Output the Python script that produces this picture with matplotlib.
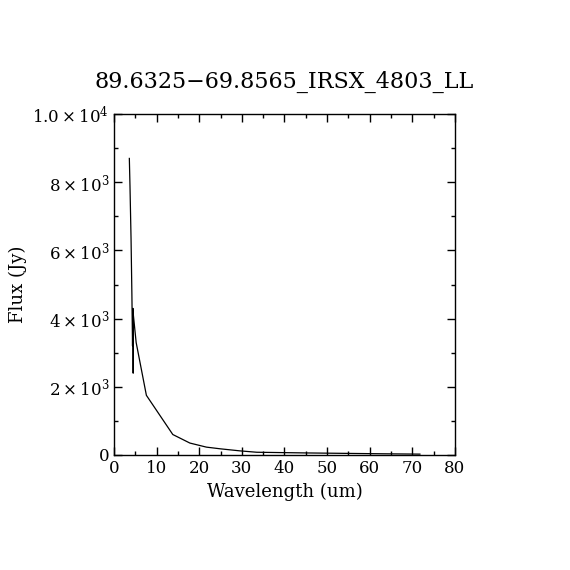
import matplotlib
matplotlib.use('Agg')
import matplotlib.pyplot as plt
from matplotlib.ticker import MultipleLocator, FixedLocator, FixedFormatter

plt.rcParams['font.family'] = 'DejaVu Serif'
plt.rcParams['mathtext.fontset'] = 'dejavuserif'

# spectrum
wavelength = [3.6, 3.75, 4.0, 4.2, 4.35, 4.45, 4.5, 4.55, 5.2, 7.6, 13.8,
              17.8, 21.7, 25.0, 29.6, 33.5, 45.0, 63.0, 71.8]
flux = [8700, 7900, 6350, 4700, 3200, 4300, 2400, 4100, 3300, 1750, 600,
        350, 230, 180, 120, 80, 60, 35, 25]

title = '89.6325\u221269.8565_IRSX_4803_LL'
x_ticks = [0, 10, 20, 30, 40, 50, 60, 70, 80]
y_ticks = [0, 2000, 4000, 6000, 8000, 10000]
y_labels = ['0', r'$2\times10^3$', r'$4\times10^3$', r'$6\times10^3$',
            r'$8\times10^3$', r'$1.0\times10^4$']

fig = plt.figure(figsize=(5.7, 5.7), dpi=100)
ax = fig.add_axes([0.2, 0.2018, 0.598, 0.598])
ax.plot(wavelength, flux, color='black', linewidth=0.9)

ax.set_xlim(0, 80)
ax.set_ylim(0, 10000)
ax.xaxis.set_major_locator(FixedLocator(x_ticks))
ax.xaxis.set_minor_locator(MultipleLocator(5))
ax.yaxis.set_major_locator(FixedLocator(y_ticks))
ax.yaxis.set_major_formatter(FixedFormatter(y_labels))
ax.yaxis.set_minor_locator(MultipleLocator(1000))
ax.tick_params(which='both', direction='in', top=True, right=True,
               labelsize=12, width=1)
ax.tick_params(which='major', length=6)
ax.tick_params(which='minor', length=3)
for s in ax.spines.values():
    s.set_linewidth(1)

ax.set_xlabel('Wavelength (um)', fontsize=13)
ax.set_ylabel('Flux (Jy)', fontsize=13)
ax.set_title(title, fontsize=16, pad=19)

fig.savefig('out.png', dpi=100)
